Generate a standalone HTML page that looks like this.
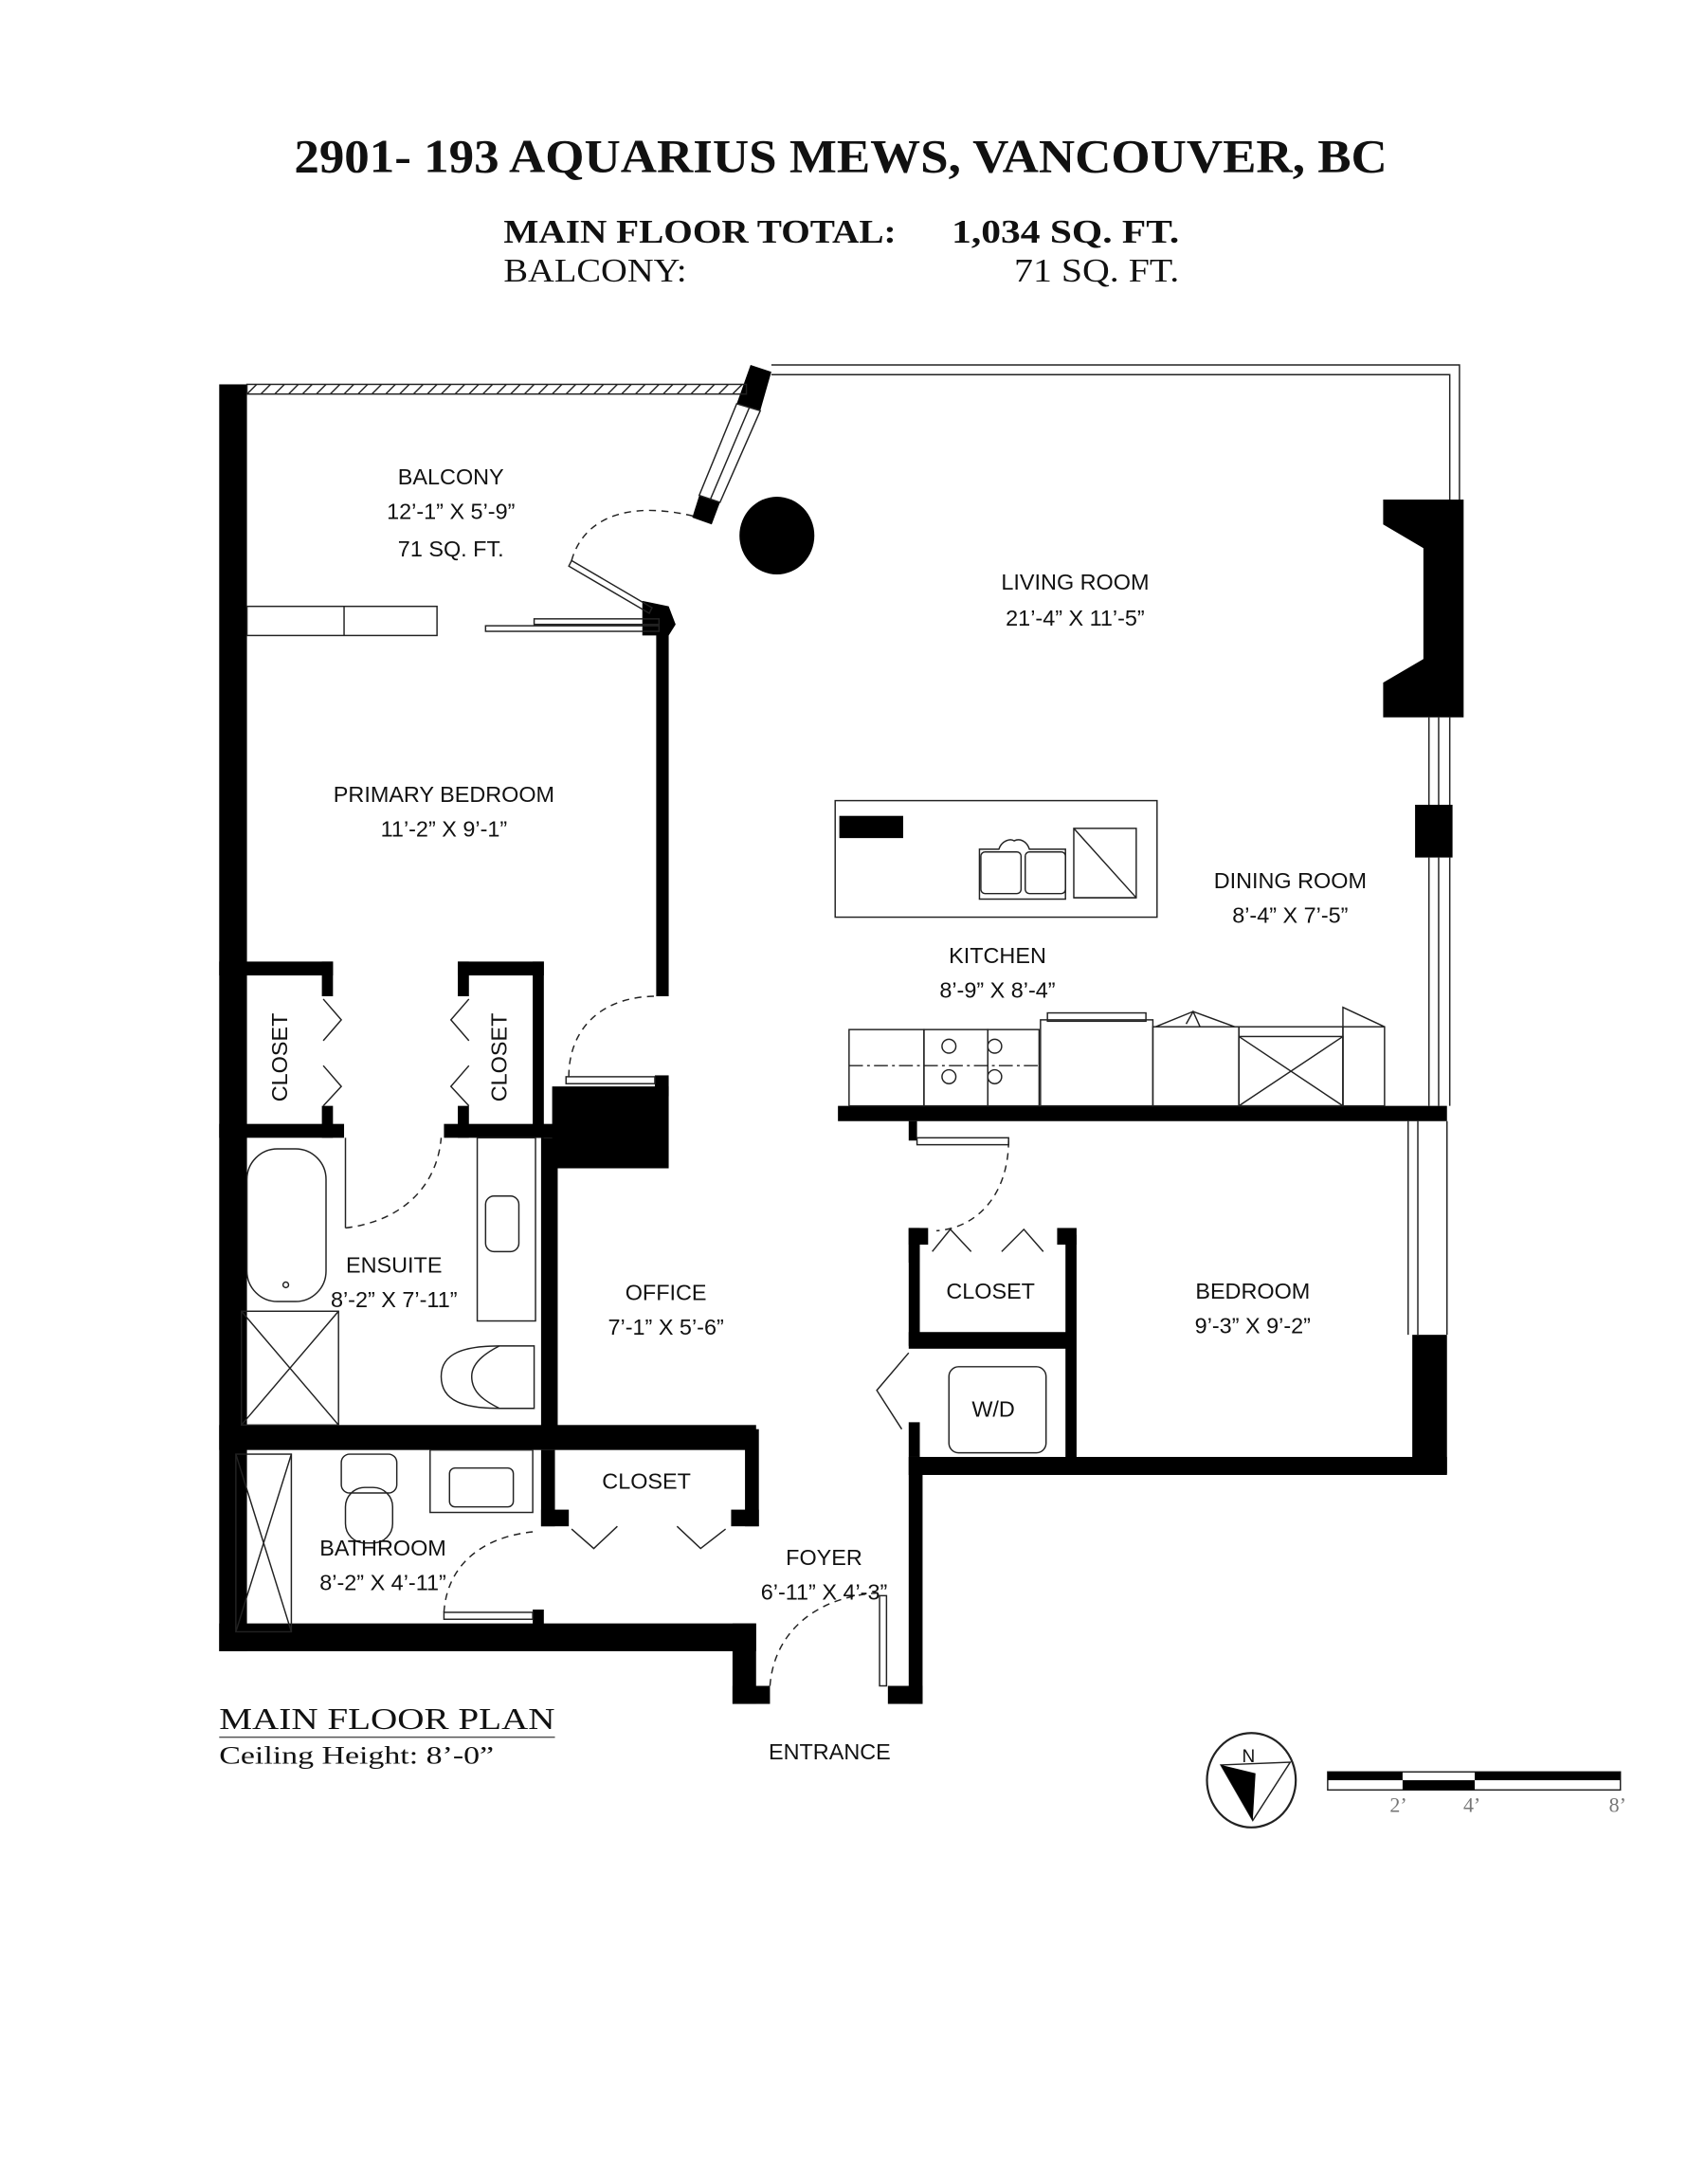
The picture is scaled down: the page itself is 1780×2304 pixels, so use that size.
<!DOCTYPE html>
<html><head><meta charset="utf-8"><style>
html,body{margin:0;padding:0;background:#fff}
svg{display:block}
.s{font-family:"Liberation Serif",serif;fill:#111}
.l{font-family:"Liberation Sans",sans-serif;fill:#111;font-size:16px;text-anchor:middle}
</style></head><body>
<svg width="1780" height="2304" viewBox="0 0 1216 1574" xmlns="http://www.w3.org/2000/svg">
<rect width="1216" height="1574" fill="#fff"/>
<text class="s" x="212" y="124" font-size="34" font-weight="bold" textLength="788" lengthAdjust="spacingAndGlyphs">2901- 193 AQUARIUS MEWS, VANCOUVER, BC</text>
<text class="s" x="363" y="175" font-size="24" font-weight="bold" textLength="283" lengthAdjust="spacingAndGlyphs">MAIN FLOOR TOTAL:</text>
<text class="s" x="686" y="175" font-size="24" font-weight="bold" textLength="164" lengthAdjust="spacingAndGlyphs">1,034 SQ. FT.</text>
<text class="s" x="363" y="203" font-size="24" textLength="132" lengthAdjust="spacingAndGlyphs">BALCONY:</text>
<text class="s" x="731" y="203" font-size="24" textLength="119" lengthAdjust="spacingAndGlyphs">71 SQ. FT.</text>

<g fill="#000" stroke="none">
<!-- left outer wall -->
<rect x="158" y="277" width="20" height="913"/>
<!-- bottom wall -->
<rect x="158" y="1170" width="387" height="20"/>
<rect x="528" y="1170" width="17" height="58"/>
<rect x="528" y="1215" width="27" height="13"/>
<rect x="640" y="1215" width="25" height="13"/>
<rect x="655" y="1050" width="10" height="178"/>
<!-- bedroom bottom/right -->
<rect x="655" y="1050" width="388" height="13"/>
<rect x="1018" y="962" width="25" height="100"/>
<rect x="768" y="890" width="8" height="170"/>
<rect x="655" y="885" width="8" height="25"/>
<rect x="655" y="960" width="120" height="12"/>
<rect x="655" y="885" width="14" height="12"/>
<rect x="762" y="885" width="14" height="12"/>
<rect x="655" y="885" width="8" height="85"/>
<rect x="655" y="1025" width="8" height="25"/>
<!-- kitchen bottom wall -->
<rect x="604" y="797" width="439" height="11"/>
<rect x="655" y="808" width="6" height="14"/>
<!-- primary bedroom right wall -->
<rect x="473" y="450" width="9" height="268"/>
<polygon points="463,433 482,437 487,450 482,458 463,458"/>
<rect x="398" y="783" width="84" height="59"/>
<rect x="472" y="775" width="10" height="15"/>
<!-- closets -->
<rect x="158" y="693" width="82" height="10"/>
<rect x="232" y="693" width="8" height="25"/>
<rect x="232" y="797" width="8" height="23"/>
<rect x="158" y="810" width="90" height="10"/>
<rect x="330" y="693" width="62" height="10"/>
<rect x="330" y="693" width="8" height="25"/>
<rect x="330" y="797" width="8" height="23"/>
<rect x="320" y="810" width="82" height="10"/>
<rect x="384" y="693" width="8" height="127"/>
<!-- office left wall -->
<rect x="390" y="820" width="12" height="210"/>
<!-- ensuite/bath divider -->
<rect x="158" y="1027" width="387" height="18"/>
<rect x="390" y="1045" width="10" height="55"/>
<rect x="537" y="1030" width="10" height="70"/>
<rect x="390" y="1088" width="20" height="12"/>
<rect x="527" y="1088" width="20" height="12"/>
<rect x="384" y="1160" width="8" height="12"/>
<!-- fireplace -->
<path d="M997 360 H1055 V517 H997 V492 L1026 475 V395 L997 378 Z"/>
<rect x="1020" y="580" width="27" height="38"/>
<!-- angled wall ends -->
<polygon points="541,263 556,268 548,296 531,291"/>
<polygon points="504,357 519,362 513,378 499,373"/>
<!-- column -->
<ellipse cx="560" cy="386" rx="27" ry="28"/>
<!-- island black -->
<rect x="605" y="588" width="46" height="16"/>
</g>

<g fill="none" stroke="#222" stroke-width="1">
<!-- balcony railing hatched -->
<rect x="178" y="277" width="360" height="7"/>
<path d="M178 284 l7 -7 M188 284 l7 -7 M198 284 l7 -7 M208 284 l7 -7 M218 284 l7 -7 M228 284 l7 -7 M238 284 l7 -7 M248 284 l7 -7 M258 284 l7 -7 M268 284 l7 -7 M278 284 l7 -7 M288 284 l7 -7 M298 284 l7 -7 M308 284 l7 -7 M318 284 l7 -7 M328 284 l7 -7 M338 284 l7 -7 M348 284 l7 -7 M358 284 l7 -7 M368 284 l7 -7 M378 284 l7 -7 M388 284 l7 -7 M398 284 l7 -7 M408 284 l7 -7 M418 284 l7 -7 M428 284 l7 -7 M438 284 l7 -7 M448 284 l7 -7 M458 284 l7 -7 M468 284 l7 -7 M478 284 l7 -7 M488 284 l7 -7 M498 284 l7 -7 M508 284 l7 -7 M518 284 l7 -7 M528 284 l7 -7"/>
<!-- angled window -->
<polygon points="531,291 548,296 519,362 504,357"/>
<line x1="540" y1="294" x2="512" y2="360"/>
<!-- top/right window -->
<path d="M556 263 H1052 V360 M556 270 H1045 V360"/>
<path d="M1030 517 V580 M1037 517 V580 M1045 517 V580 M1030 618 V797 M1037 618 V797 M1045 618 V797"/>
<path d="M1015 808 V962 M1022 808 V962 M1043 808 V962"/>
<!-- balcony windows -->
<rect x="178" y="437" width="137" height="21"/>
<line x1="248" y1="437" x2="248" y2="458"/>
<rect x="350" y="451" width="125" height="4"/>
<rect x="385" y="446" width="90" height="4"/>
<!-- balcony door -->
<polygon points="412,404 470,438 468,442 410,408"/>
<path d="M412 404 C420 375 450 360 500 372" stroke-dasharray="5,4"/>
<!-- primary bedroom door -->
<rect x="408" y="776" width="64" height="5"/>
<path d="M410 776 C410 740 435 718 473 718" stroke-dasharray="5,4"/>
<!-- closet bifold doors -->
<path d="M233 720 L246 735 L233 750 M233 768 L246 783 L233 797 M338 720 L325 735 L338 750 M338 768 L325 783 L338 797"/>
<!-- ensuite -->
<rect x="178" y="828" width="57" height="110" rx="22"/>
<circle cx="206" cy="926" r="2"/>
<rect x="174" y="945" width="70" height="82"/>
<path d="M174 945 L244 1027 M244 945 L174 1027"/>
<line x1="249" y1="820" x2="249" y2="885"/>
<path d="M249 885 C290 880 315 855 318 820" stroke-dasharray="5,4"/>
<rect x="344" y="820" width="42" height="132"/>
<rect x="350" y="862" width="24" height="40" rx="6"/>
<path d="M318 992 C318 975 335 970 360 970 H385 V1015 H360 C335 1015 318 1010 318 992 Z"/>
<path d="M360 970 C350 975 340 982 340 992 C340 1004 350 1010 360 1015"/>
<!-- bathroom -->
<rect x="170" y="1048" width="40" height="128"/>
<path d="M170 1048 L210 1176 M210 1048 L170 1176"/>
<rect x="246" y="1048" width="40" height="28" rx="6"/>
<rect x="249" y="1072" width="34" height="40" rx="14"/>
<rect x="310" y="1045" width="74" height="45"/>
<rect x="324" y="1058" width="46" height="28" rx="4"/>
<rect x="320" y="1162" width="64" height="5"/>
<path d="M320 1162 C322 1130 345 1108 384 1104" stroke-dasharray="5,4"/>
<!-- foyer closet doors -->
<path d="M412 1102 L428 1116 L445 1100 M488 1100 L505 1116 L523 1102"/>
<!-- entrance door -->
<rect x="634" y="1150" width="5" height="65"/>
<path d="M555 1215 C558 1175 590 1150 634 1148" stroke-dasharray="5,4"/>
<!-- bedroom door -->
<rect x="661" y="820" width="66" height="5"/>
<path d="M727 822 C727 860 705 885 675 887" stroke-dasharray="5,4"/>
<path d="M672 902 L685 886 L700 902 M722 902 L738 886 L752 902"/>
<!-- W/D -->
<rect x="684" y="985" width="70" height="62" rx="7"/>
<path d="M655 975 L632 1002 L650 1030"/>
<!-- kitchen -->
<rect x="602" y="577" width="232" height="84"/>
<path d="M706 612 H720 C722 606 728 604 731 606 C735 604 740 606 742 612 H768 V648 H706 Z"/>
<rect x="707" y="614" width="29" height="30" rx="3"/>
<rect x="739" y="614" width="29" height="30" rx="3"/>
<rect x="774" y="597" width="45" height="50"/>
<line x1="774" y1="597" x2="819" y2="647"/>
<line x1="774" y1="647" x2="819" y2="647"/>
<rect x="612" y="742" width="54" height="55"/>
<rect x="666" y="742" width="46" height="55"/>
<circle cx="684" cy="754" r="5"/><circle cx="717" cy="754" r="5"/>
<circle cx="684" cy="776" r="5"/><circle cx="717" cy="776" r="5"/>
<rect x="712" y="742" width="37" height="55"/>
<line x1="612" y1="768" x2="749" y2="768" stroke-dasharray="10,3,2,3"/>
<rect x="750" y="735" width="81" height="62"/>
<rect x="755" y="730" width="71" height="6"/>
<rect x="831" y="740" width="62" height="57"/>
<path d="M833 740 L860 729 L890 740 M855 738 L860 729 L865 740"/>
<rect x="893" y="740" width="75" height="57"/>
<rect x="893" y="747" width="75" height="50"/>
<path d="M893 747 L968 797 M968 747 L893 797"/>
<rect x="968" y="740" width="30" height="57"/>
<path d="M968 740 V726 L998 740"/>
</g>

<!-- labels -->
<text class="l" x="325" y="349">BALCONY</text>
<text class="l" x="325" y="374">12’-1” X 5’-9”</text>
<text class="l" x="325" y="401">71 SQ. FT.</text>
<text class="l" x="775" y="425">LIVING ROOM</text>
<text class="l" x="775" y="451">21’-4” X 11’-5”</text>
<text class="l" x="320" y="578">PRIMARY BEDROOM</text>
<text class="l" x="320" y="603">11’-2” X 9’-1”</text>
<text class="l" x="930" y="640">DINING ROOM</text>
<text class="l" x="930" y="665">8’-4” X 7’-5”</text>
<text class="l" x="719" y="694">KITCHEN</text>
<text class="l" x="719" y="719">8’-9” X 8’-4”</text>
<text class="l" x="284" y="917">ENSUITE</text>
<text class="l" x="284" y="942">8’-2” X 7’-11”</text>
<text class="l" x="480" y="937">OFFICE</text>
<text class="l" x="480" y="962">7’-1” X 5’-6”</text>
<text class="l" x="903" y="936">BEDROOM</text>
<text class="l" x="903" y="961">9’-3” X 9’-2”</text>
<text class="l" x="714" y="936" font-size="14">CLOSET</text>
<text class="l" x="716" y="1021" font-size="14">W/D</text>
<text class="l" x="466" y="1073" font-size="14">CLOSET</text>
<text class="l" x="276" y="1121">BATHROOM</text>
<text class="l" x="276" y="1146">8’-2” X 4’-11”</text>
<text class="l" x="594" y="1128">FOYER</text>
<text class="l" x="594" y="1153">6’-11” X 4’-3”</text>
<text class="l" x="598" y="1268">ENTRANCE</text>
<text class="l" font-size="14" transform="translate(207,762) rotate(-90)">CLOSET</text>
<text class="l" font-size="14" transform="translate(365,762) rotate(-90)">CLOSET</text>

<!-- footer -->
<text class="s" x="158" y="1246" font-size="22" textLength="242" lengthAdjust="spacingAndGlyphs">MAIN FLOOR PLAN</text>
<line x1="158" y1="1252" x2="400" y2="1252" stroke="#555" stroke-width="1"/>
<text class="s" x="158" y="1271" font-size="18" textLength="198" lengthAdjust="spacingAndGlyphs">Ceiling Height: 8’-0”</text>

<!-- compass -->
<ellipse cx="902" cy="1283" rx="32" ry="34" fill="none" stroke="#222" stroke-width="1.5"/>
<polygon points="880,1272 930,1270 903,1312" fill="none" stroke="#222"/>
<polygon points="880,1272 905,1278 903,1312" fill="#000"/>
<text x="900" y="1270" font-family="Liberation Sans,sans-serif" font-size="13" fill="#111" text-anchor="middle">N</text>

<!-- scale bar -->
<rect x="957" y="1277" width="211" height="13" fill="none" stroke="#222"/>
<rect x="957" y="1277" width="54" height="6" fill="#000"/>
<rect x="1011" y="1283" width="52" height="7" fill="#000"/>
<rect x="1063" y="1277" width="105" height="6" fill="#000"/>
<text x="1008" y="1306" font-family="Liberation Serif,serif" font-size="15" fill="#777" text-anchor="middle">2’</text>
<text x="1061" y="1306" font-family="Liberation Serif,serif" font-size="15" fill="#777" text-anchor="middle">4’</text>
<text x="1166" y="1306" font-family="Liberation Serif,serif" font-size="15" fill="#777" text-anchor="middle">8’</text>
</svg>
</body></html>
